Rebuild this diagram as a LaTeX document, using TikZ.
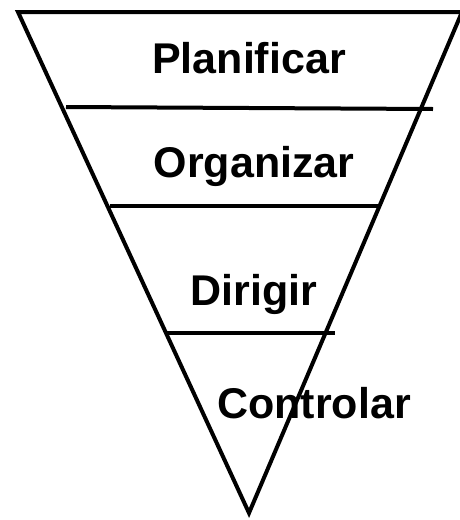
\documentclass[tikz,border=0pt]{standalone}
\usepackage{fontspec}
\setmainfont{Liberation Sans}
\tikzset{etapa/.style={font=\bfseries\fontsize{43}{43}\selectfont, inner sep=0pt}}
\begin{document}
\begin{tikzpicture}[x=1pt,y=-1pt,line width=4pt]
	\useasboundingbox (0,0) rectangle (459,520);
	
	\draw[line join=miter] (18,12) -- (462,12) -- (249,513) -- cycle;
	
	\draw (66,107) -- (433,109);
	\draw (110,206) -- (380,206);
	\draw (167,333) -- (335,333);
	
	\node[etapa] (planificar) at (249,58) {Planificar};
	\node[etapa] (organizar) at (254,166) {Organizar};
	\node[etapa] (dirigir) at (254,294) {Dirigir};
	\node[etapa] (controlar) at (314,403) {Controlar};
\end{tikzpicture}
\end{document}
